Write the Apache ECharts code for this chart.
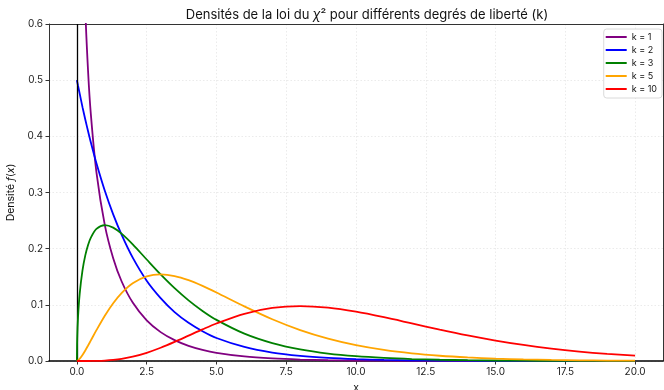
<!DOCTYPE html>
<html>
<head>
<meta charset="utf-8">
<script src="https://cdn.jsdelivr.net/npm/echarts@6/dist/echarts.min.js"></script>
<style>html,body{margin:0;padding:0;background:#fff}#c{width:664px;height:390px}</style>
</head>
<body>
<div id="c"></div>
<script>
// x positions at which the curves were read
const xs = [0, 0.01, 0.04, 0.1, 0.2, 0.3, 0.4, 0.5, 0.7, 1, 1.3, 1.6, 2, 2.5, 3, 3.5, 4, 4.5, 5, 6, 7, 8, 9, 10, 11, 12, 13, 14, 15, 16, 17, 18, 19, 20];
// densities (k = 1 undefined at x = 0)
const k1 = [null, 3.97, 1.955, 1.200, 0.807, 0.627, 0.516, 0.439, 0.336, 0.242, 0.183, 0.142, 0.104, 0.0723, 0.0514, 0.0371, 0.0270, 0.0198, 0.0146, 0.0081, 0.0046, 0.0026, 0.0015, 0.00085, 0.00049, 0.00029, 0.00017, 0.0001, 0.00006, 0.00003, 0.00002, 0.00001, 0.00001, 0.0];
const k2 = [0.5, 0.4975, 0.490, 0.476, 0.452, 0.430, 0.409, 0.389, 0.352, 0.303, 0.261, 0.225, 0.184, 0.143, 0.112, 0.087, 0.068, 0.053, 0.041, 0.025, 0.015, 0.0092, 0.0056, 0.0034, 0.0020, 0.0012, 0.0008, 0.0005, 0.0003, 0.0002, 0.0001, 0.0001, 0.0, 0.0];
const k3 = [0, 0.0397, 0.0782, 0.1200, 0.1614, 0.1881, 0.2066, 0.2197, 0.2352, 0.2420, 0.2375, 0.2267, 0.2076, 0.1807, 0.1542, 0.1297, 0.1080, 0.0892, 0.0732, 0.0487, 0.0319, 0.0207, 0.0133, 0.0085, 0.0054, 0.0034, 0.0022, 0.0014, 0.00085, 0.00054, 0.00033, 0.00021, 0.00013, 0.00008];
const k5 = [0, 0.00013, 0.00104, 0.0040, 0.01076, 0.01881, 0.02754, 0.03662, 0.05488, 0.08066, 0.10290, 0.12093, 0.13837, 0.15060, 0.15418, 0.15131, 0.14398, 0.13380, 0.12204, 0.09730, 0.07437, 0.05511, 0.03989, 0.02833, 0.01983, 0.01370, 0.00937, 0.00635, 0.00427, 0.00286, 0.00190, 0.00125, 0.00082, 0.00054];
const k10 = [0, 0, 0, 0, 0, 0, 0.00001, 0.00006, 0.00022, 0.00079, 0.00194, 0.00383, 0.00766, 0.01457, 0.02353, 0.03395, 0.04511, 0.05628, 0.06680, 0.08402, 0.09440, 0.09769, 0.09490, 0.08773, 0.07791, 0.06693, 0.05591, 0.04561, 0.03646, 0.02863, 0.02213, 0.01687, 0.01270, 0.00946];
const seriesNames = ['k = 1', 'k = 2', 'k = 3', 'k = 5', 'k = 10'];
const seriesValues = [k1, k2, k3, k5, k10];
const colors = ['#800080', '#0000ff', '#008000', '#ffa500', '#ff0000'];
const xTicks = [0, 2.5, 5, 7.5, 10, 12.5, 15, 17.5, 20];

const font = 'Inter, "DejaVu Sans", sans-serif';
const chart = echarts.init(document.getElementById('c'), null, {renderer: 'canvas'});

const series = seriesNames.map((name, i) => ({
  name: name,
  type: 'line',
  showSymbol: false,
  symbol: 'none',
  smooth: 0.3,
  clip: true,
  lineStyle: {width: 1.8, color: colors[i]},
  itemStyle: {color: colors[i]},
  z: 3 + i,
  data: xs.map((x, j) => seriesValues[i][j] === null ? null : [x, seriesValues[i][j]])
}));
series[0].markLine = {
  silent: true,
  symbol: 'none',
  label: {show: false},
  lineStyle: {color: '#000', width: 1.3, type: 'solid'},
  data: [{xAxis: 0}]
};

const gridLine = {show: true, lineStyle: {color: '#e6e6e6', type: [1.5, 2], width: 0.8}};

chart.setOption({
  animation: false,
  backgroundColor: '#fff',
  textStyle: {fontFamily: font},
  title: {
    text: 'Densités de la loi du {i|χ}² pour différents degrés de liberté (k)',
    left: 362, top: 4, textAlign: 'center',
    textStyle: {
      fontFamily: font, fontSize: 13, fontWeight: 'normal', color: '#111',
      rich: {i: {fontFamily: font, fontSize: 13, fontStyle: 'italic', color: '#111'}}
    }
  },
  legend: {
    data: seriesNames,
    orient: 'vertical',
    right: 2, top: 29,
    backgroundColor: '#fff',
    borderColor: '#d0d0d0', borderWidth: 0.8, borderRadius: 3,
    padding: [3, 5, 4, 2],
    itemGap: 3,
    itemWidth: 21, itemHeight: 2,
    icon: 'rect',
    textStyle: {fontFamily: font, fontSize: 9, color: '#111', lineHeight: 10}
  },
  grid: {left: 49, right: 1, top: 24, bottom: 29, outerBoundsMode: 'none', containLabel: false, show: false},
  xAxis: [{
    type: 'value', min: -1, max: 21,
    name: 'x', nameLocation: 'middle', nameGap: 20,
    nameTextStyle: {fontFamily: font, fontSize: 10.5, color: '#111'},
    axisLine: {show: true, onZero: false, lineStyle: {color: '#000', width: 1.6}},
    axisTick: {show: true, length: 3.5, lineStyle: {color: '#333'}, customValues: xTicks},
    axisLabel: {customValues: xTicks, formatter: v => v.toFixed(1), fontFamily: font, fontSize: 10, color: '#222', margin: 6},
    splitLine: gridLine
  }, {
    type: 'value', min: -1, max: 21, position: 'top',
    axisLine: {show: true, onZero: false, lineStyle: {color: '#333', width: 1}},
    axisTick: {show: false}, axisLabel: {show: false}, splitLine: {show: false}
  }],
  yAxis: [{
    type: 'value', min: 0, max: 0.6, interval: 0.1,
    name: 'Densité {i|f}({i|x})', nameLocation: 'middle', nameGap: 31, nameRotate: 90,
    nameTextStyle: {fontFamily: font, fontSize: 10.5, color: '#111',
      rich: {i: {fontFamily: font, fontSize: 10.5, fontStyle: 'italic', color: '#111'}}},
    axisLine: {show: true, onZero: false, lineStyle: {color: '#333', width: 1}},
    axisTick: {show: true, length: 3.5, lineStyle: {color: '#333'}},
    axisLabel: {formatter: v => v.toFixed(1), fontFamily: font, fontSize: 10, color: '#222', margin: 6},
    splitLine: gridLine
  }, {
    type: 'value', min: 0, max: 0.6, position: 'right',
    axisLine: {show: true, onZero: false, lineStyle: {color: '#333', width: 1}},
    axisTick: {show: false}, axisLabel: {show: false}, splitLine: {show: false}
  }],
  series: series
});
</script>
</body>
</html>
